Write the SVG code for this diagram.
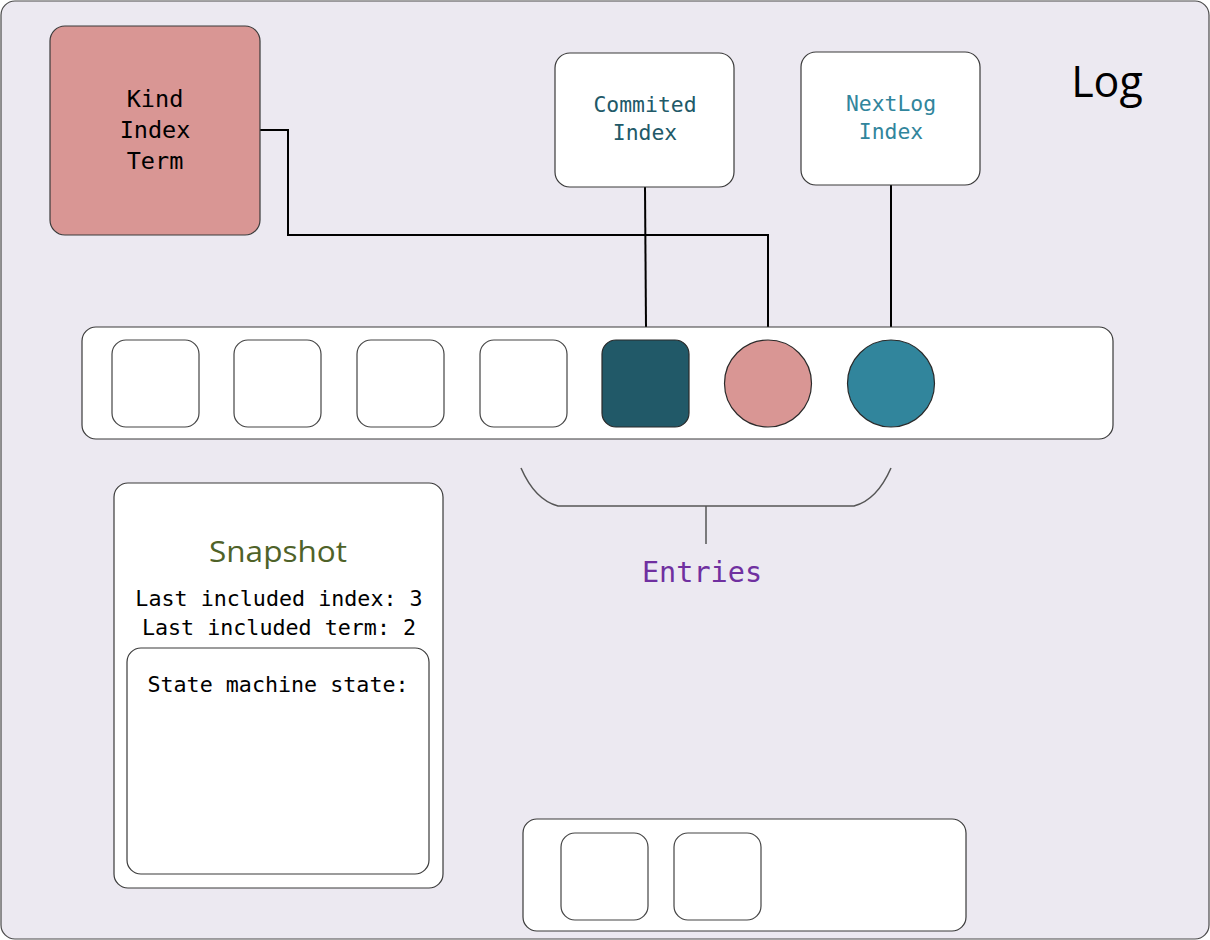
<svg xmlns="http://www.w3.org/2000/svg" width="1210" height="940" viewBox="0 0 1210 940">
<style>
.box{fill:#FFFFFF;stroke:#3A3A3A;stroke-width:1.2}
.cell{fill:#FFFFFF;stroke:#444444;stroke-width:1.2}
.mono{font-family:"DejaVu Sans Mono","Liberation Mono",monospace;text-anchor:middle}
.sans{font-family:"Open Sans","Noto Sans",sans-serif;text-anchor:middle}
.conn{fill:none;stroke:#000000;stroke-width:2}
.brace{fill:none;stroke:#555555;stroke-width:1.5}
</style>
<g id="log">
<rect x="1" y="1" width="1208" height="938" rx="14" fill="#ECE9F1" stroke="#4A4A4A" stroke-width="1.2"/>
<text class="sans" x="1107" y="97" font-size="43" fill="#000000">Log</text>
</g>
<g id="connectors">
<polyline class="conn" points="260,130 288,130 288,235 768,235 768,340"/>
<line class="conn" x1="645" y1="187" x2="646" y2="327"/>
<line class="conn" x1="891" y1="185" x2="891" y2="327"/>
</g>
<g id="entry-kind">
<rect x="50" y="26" width="210" height="209" rx="15" fill="#D99694" stroke="#3A3A3A" stroke-width="1.2"/>
<text class="mono" font-size="23.5" fill="#000000"><tspan x="155" y="107">Kind</tspan><tspan x="155" y="138">Index</tspan><tspan x="155" y="169">Term</tspan></text>
</g>
<g id="commited-index">
<rect class="box" x="555" y="53" width="179" height="134" rx="15"/>
<text class="mono" font-size="21.4" fill="#215968"><tspan x="645" y="112">Commited</tspan><tspan x="645" y="140">Index</tspan></text>
</g>
<g id="nextlog-index">
<rect class="box" x="801" y="52" width="179" height="133" rx="15"/>
<text class="mono" font-size="21.4" fill="#31859C"><tspan x="891" y="111">NextLog</tspan><tspan x="891" y="139">Index</tspan></text>
</g>
<g id="entries-bar">
<rect class="box" x="82" y="327" width="1031" height="112" rx="14"/>
<rect class="cell" x="112" y="340" width="87" height="87" rx="14"/>
<rect class="cell" x="234" y="340" width="87" height="87" rx="14"/>
<rect class="cell" x="357" y="340" width="87" height="87" rx="14"/>
<rect class="cell" x="480" y="340" width="87" height="87" rx="14"/>
<rect x="602" y="340" width="87" height="87" rx="14" fill="#215968" stroke="#2A2A2A" stroke-width="1.2"/>
<circle cx="768" cy="383.5" r="43.5" fill="#D99694" stroke="#2A2A2A" stroke-width="1.2"/>
<circle cx="891" cy="383.5" r="43.5" fill="#31859C" stroke="#2A2A2A" stroke-width="1.2"/>
</g>
<g id="entries-label">
<path class="brace" d="M521,468 Q535,500 558,506 L854,506 Q877,500 891,468"/>
<line class="brace" x1="706" y1="506" x2="706" y2="544"/>
<text class="mono" x="702" y="582" font-size="28.5" fill="#7030A0">Entries</text>
</g>
<g id="snapshot">
<rect class="box" x="114" y="483" width="329" height="405" rx="14"/>
<text class="sans" x="278" y="562" font-size="30" fill="#4F6228" textLength="138" lengthAdjust="spacingAndGlyphs">Snapshot</text>
<text class="mono" x="279" y="606" font-size="21.7" fill="#000000">Last included index: 3</text>
<text class="mono" x="279" y="635" font-size="21.7" fill="#000000">Last included term: 2</text>
</g>
<g id="state-machine">
<rect class="box" x="127" y="648" width="302" height="226" rx="14"/>
<text class="mono" x="278" y="692" font-size="21.7" fill="#000000">State machine state:</text>
</g>
<g id="bottom-bar">
<rect class="box" x="523" y="819" width="443" height="112" rx="14"/>
<rect class="cell" x="561" y="833" width="87" height="87" rx="14"/>
<rect class="cell" x="674" y="833" width="87" height="87" rx="14"/>
</g>
</svg>
